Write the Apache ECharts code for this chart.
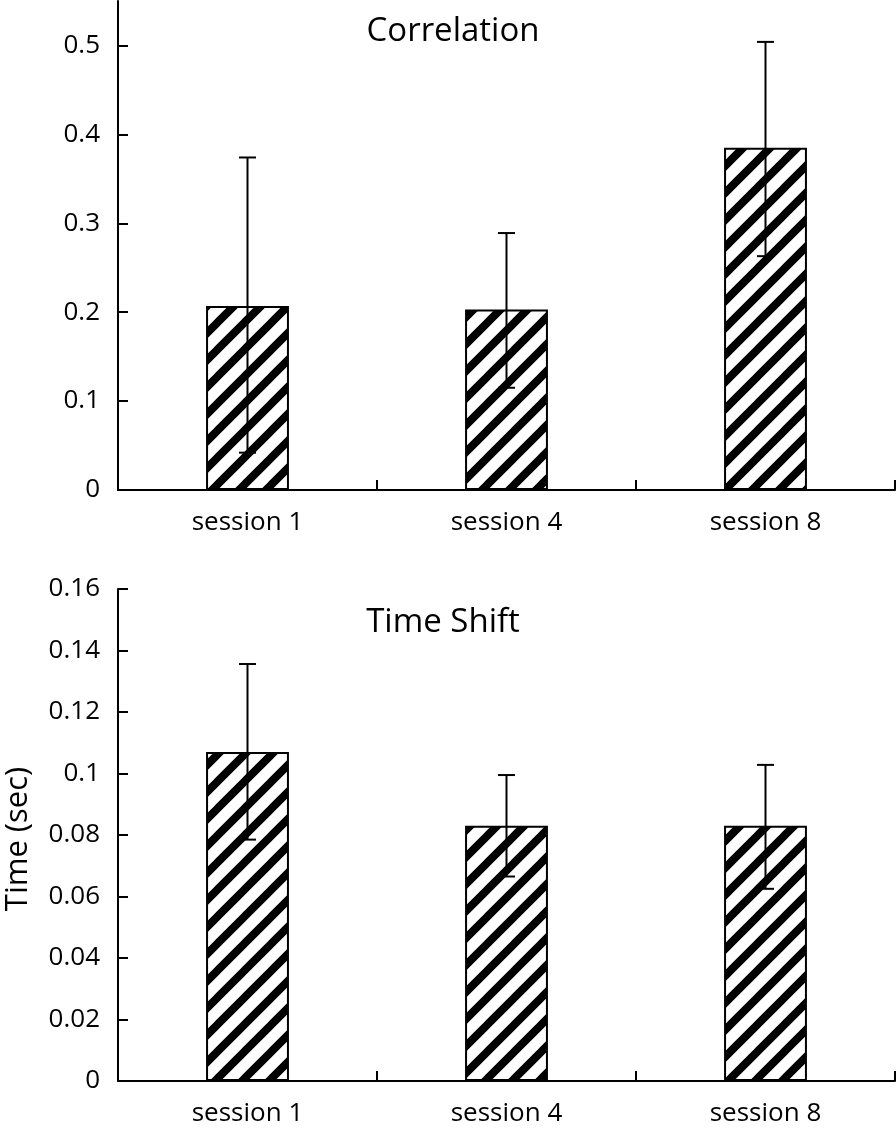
<!DOCTYPE html>
<html>
<head>
<meta charset="utf-8">
<script src="https://cdn.jsdelivr.net/npm/echarts@6/dist/echarts.min.js"></script>
<style>
html,body{margin:0;padding:0;background:#fff;}
#chart{width:896px;height:1133px;}
</style>
</head>
<body>
<div id="chart"></div>
<script>
var categories = ['session 1', 'session 4', 'session 8'];

var corrMean = [0.207, 0.203, 0.385];
var corrHigh = [0.374, 0.289, 0.504];
var corrLow  = [0.042, 0.115, 0.263];
var corrTicks = [0, 0.1, 0.2, 0.3, 0.4, 0.5];

var timeMean = [0.107, 0.083, 0.083];
var timeHigh = [0.1356, 0.0995, 0.1028];
var timeLow  = [0.0785, 0.0665, 0.0625];
var timeTicks = [0, 0.02, 0.04, 0.06, 0.08, 0.1, 0.12, 0.14, 0.16];

var FONT = 'Open Sans';

function makeHatch() {
  var p = 27;
  var c = document.createElement('canvas');
  c.width = p; c.height = p;
  var ctx = c.getContext('2d');
  ctx.fillStyle = '#fff';
  ctx.fillRect(0, 0, p, p);
  ctx.strokeStyle = '#000';
  ctx.lineWidth = 8;
  ctx.lineCap = 'square';
  for (var k = -1; k <= 1; k++) {
    ctx.beginPath();
    ctx.moveTo(k * p, p);
    ctx.lineTo(k * p + p, 0);
    ctx.stroke();
  }
  return c;
}
var hatch = makeHatch();

function errData(low, high) {
  return low.map(function (l, i) { return [i, l, high[i]]; });
}

function renderErr(params, api) {
  var i = api.value(0);
  var lo = api.coord([i, api.value(1)]);
  var hi = api.coord([i, api.value(2)]);
  var half = 8.5;
  var st = { stroke: '#000', lineWidth: 2 };
  return {
    type: 'group',
    children: [
      { type: 'line', shape: { x1: hi[0], y1: hi[1], x2: lo[0], y2: lo[1] }, style: st },
      { type: 'line', shape: { x1: hi[0] - half, y1: hi[1], x2: hi[0] + half, y2: hi[1] }, style: st },
      { type: 'line', shape: { x1: lo[0] - half, y1: lo[1], x2: lo[0] + half, y2: lo[1] }, style: st }
    ]
  };
}

function xAxisCfg(gridIndex, margin) {
  return {
    type: 'category', gridIndex: gridIndex, data: categories,
    axisLine: { lineStyle: { color: '#000', width: 2 } },
    axisTick: { show: true, inside: true, length: 10, lineStyle: { color: '#000', width: 2 } },
    axisLabel: { color: '#000', fontFamily: FONT, fontSize: 26, margin: margin },
    splitLine: { show: false }
  };
}

var option = {
  backgroundColor: '#fff',
  animation: false,
  title: [
    { text: 'Correlation', left: 453, top: 15, textAlign: 'center', padding: 0,
      textStyle: { fontFamily: FONT, fontSize: 33, fontWeight: 'normal', color: '#000' } },
    { text: 'Time Shift', left: 443, top: 606, textAlign: 'center', padding: 0,
      textStyle: { fontFamily: FONT, fontSize: 33, fontWeight: 'normal', color: '#000' } }
  ],
  grid: [
    { left: 118, right: 1, top: 1, bottom: 643, outerBoundsMode: 'none', containLabel: false },
    { left: 118, right: 1, top: 589, bottom: 52, outerBoundsMode: 'none', containLabel: false }
  ],
  xAxis: [xAxisCfg(0, 20), xAxisCfg(1, 20)],
  yAxis: [
    {
      type: 'value', gridIndex: 0, min: 0, max: 0.55,
      axisLine: { show: true, lineStyle: { color: '#000', width: 2 } },
      axisTick: { show: true, inside: true, length: 10, customValues: corrTicks, lineStyle: { color: '#000', width: 2 } },
      axisLabel: { color: '#000', fontFamily: FONT, fontSize: 26, margin: 18, customValues: corrTicks },
      splitLine: { show: false }
    },
    {
      type: 'value', gridIndex: 1, min: 0, max: 0.16, interval: 0.02,
      name: 'Time (sec)', nameLocation: 'middle', nameGap: 84, nameRotate: 90,
      nameTextStyle: { fontFamily: FONT, fontSize: 31, color: '#000', padding: [0, 8, 0, 0] },
      axisLine: { show: true, lineStyle: { color: '#000', width: 2 } },
      axisTick: { show: true, inside: true, length: 10, lineStyle: { color: '#000', width: 2 } },
      axisLabel: { color: '#000', fontFamily: FONT, fontSize: 26, margin: 18,
        formatter: function (v) { return String(Math.round(v * 100) / 100); } },
      splitLine: { show: false }
    }
  ],
  series: [
    {
      type: 'bar', xAxisIndex: 0, yAxisIndex: 0, data: corrMean, barWidth: '32%',
      itemStyle: { color: { image: hatch, repeat: 'repeat' }, borderColor: '#000', borderWidth: 2 }
    },
    {
      type: 'custom', xAxisIndex: 0, yAxisIndex: 0, data: errData(corrLow, corrHigh),
      renderItem: renderErr, z: 10
    },
    {
      type: 'bar', xAxisIndex: 1, yAxisIndex: 1, data: timeMean, barWidth: '32%',
      itemStyle: { color: { image: hatch, repeat: 'repeat' }, borderColor: '#000', borderWidth: 2 }
    },
    {
      type: 'custom', xAxisIndex: 1, yAxisIndex: 1, data: errData(timeLow, timeHigh),
      renderItem: renderErr, z: 10
    }
  ]
};

var chart = echarts.init(document.getElementById('chart'), null, { renderer: 'canvas' });
chart.setOption(option);
</script>
</body>
</html>
